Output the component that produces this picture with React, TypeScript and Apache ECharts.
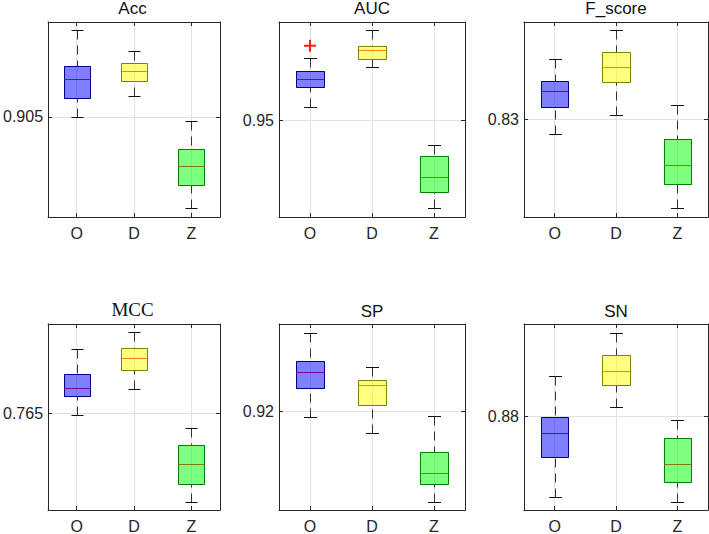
import React, { useEffect, useRef } from "react";
import * as echarts from "echarts";

const categories = ["O", "D", "Z"];
const titles = ["Acc", "AUC", "F_score", "MCC", "SP", "SN"];
const yTicks = [0.905, 0.95, 0.83, 0.765, 0.92, 0.88];
const yMin = [0.895, 0.94036, 0.82023, 0.75523, 0.91, 0.861];
const yMax = [0.91447, 0.95983, 0.8397, 0.7741, 0.92887, 0.89874];

// [lower whisker, Q1, median, Q3, upper whisker]
const accO = [0.90494, 0.90684, 0.90874, 0.9101, 0.91364];
const accD = [0.90704, 0.90857, 0.9096, 0.9104, 0.9116];
const accZ = [0.89594, 0.89817, 0.90007, 0.90174, 0.90454];

const aucO = [0.9513, 0.95336, 0.95416, 0.95493, 0.9562];
const aucD = [0.9553, 0.95613, 0.957, 0.95743, 0.959];
const aucZ = [0.9413, 0.9429, 0.94436, 0.94643, 0.9475];
const aucOutliers = [[0, 0.95746]];

const fO = [0.82853, 0.83123, 0.8328, 0.83377, 0.83597];
const fD = [0.83037, 0.83373, 0.8352, 0.8367, 0.83887];
const fZ = [0.82117, 0.8235, 0.82547, 0.82803, 0.83143];

const mccO = [0.76483, 0.7668, 0.76763, 0.76906, 0.7716];
const mccD = [0.76746, 0.7694, 0.7706, 0.77166, 0.77326];
const mccZ = [0.75606, 0.75786, 0.75986, 0.7618, 0.7635];

const spO = [0.91947, 0.92233, 0.924, 0.92513, 0.928];
const spD = [0.91783, 0.9207, 0.9227, 0.92323, 0.92447];
const spZ = [0.91083, 0.91267, 0.9138, 0.9159, 0.91953];

const snO = [0.86354, 0.8718, 0.87654, 0.87994, 0.8882];
const snD = [0.882, 0.8864, 0.8892, 0.89254, 0.897];
const snZ = [0.86266, 0.86674, 0.87034, 0.8756, 0.87934];

const panels = [
  [accO, accD, accZ],
  [aucO, aucD, aucZ],
  [fO, fD, fZ],
  [mccO, mccD, mccZ],
  [spO, spD, spZ],
  [snO, snD, snZ],
];

const GRIDS = [
  { left: 45, top: 22, width: 175, height: 195 },
  { left: 279, top: 22, width: 186, height: 195 },
  { left: 524, top: 22, width: 184, height: 195 },
  { left: 45, top: 324, width: 175, height: 189 },
  { left: 279, top: 324, width: 186, height: 189 },
  { left: 524, top: 324, width: 184, height: 189 },
];
const TITLE_Y = [8.5, 8.5, 8.5, 309, 311, 311];
const FILLS = ["rgba(0,0,255,0.5)", "rgba(255,255,0,0.5)", "rgba(0,255,0,0.5)"];
const AXIS_COLOR = "#262626";
const GRID_COLOR = "#e2e2e2";
const SANS = '"Liberation Sans", Arial, Helvetica, sans-serif';

const r = (v: number) => Math.round(v) + 0.5;

const renderBox = (params: any, api: any) => {
  const i = api.value(0);
  const c = api.coord([i, api.value(1)]);
  const cx = c[0];
  const yLo = r(c[1]);
  const yQ1 = r(api.coord([i, api.value(2)])[1]);
  const yMed = r(api.coord([i, api.value(3)])[1]);
  const yQ3 = r(api.coord([i, api.value(4)])[1]);
  const yHi = r(api.coord([i, api.value(5)])[1]);
  const band = api.size([1, 0])[0];
  const bw = band * 0.45;
  const cw = band * 0.21;
  const x0 = r(cx - bw / 2);
  const x1 = r(cx + bw / 2);
  const xc = r(cx);
  const fill = FILLS[params.dataIndex % FILLS.length];
  return {
    type: "group",
    children: [
      { type: "line", shape: { x1: xc, y1: yHi, x2: xc, y2: yQ3 }, style: { stroke: "#333", lineWidth: 1, lineDash: [9, 6] } },
      { type: "line", shape: { x1: xc, y1: yLo, x2: xc, y2: yQ1 }, style: { stroke: "#333", lineWidth: 1, lineDash: [9, 6] } },
      { type: "line", shape: { x1: xc - cw / 2, y1: yHi, x2: xc + cw / 2, y2: yHi }, style: { stroke: "#111", lineWidth: 1 } },
      { type: "line", shape: { x1: xc - cw / 2, y1: yLo, x2: xc + cw / 2, y2: yLo }, style: { stroke: "#111", lineWidth: 1 } },
      { type: "rect", shape: { x: x0, y: yQ3, width: x1 - x0, height: yQ1 - yQ3 }, style: { fill: "none", stroke: "#000", lineWidth: 1 } },
      { type: "line", shape: { x1: x0, y1: yMed, x2: x1, y2: yMed }, style: { stroke: "#ff0000", lineWidth: 1 } },
      { type: "rect", shape: { x: x0 - 0.5, y: yQ3 - 0.5, width: x1 - x0 + 1, height: yQ1 - yQ3 + 1 }, style: { fill, stroke: "none" } },
    ],
  };
};

const renderPlus = (params: any, api: any) => {
  const p = api.coord([api.value(0), api.value(1)]);
  const h = 6;
  return {
    type: "group",
    children: [
      { type: "line", shape: { x1: p[0] - h, y1: p[1], x2: p[0] + h, y2: p[1] }, style: { stroke: "#ff1a1a", lineWidth: 2 } },
      { type: "line", shape: { x1: p[0], y1: p[1] - h, x2: p[0], y2: p[1] + h }, style: { stroke: "#ff1a1a", lineWidth: 2 } },
    ],
  };
};

function buildOption() {
  const grid: any[] = [];
  const xAxis: any[] = [];
  const yAxis: any[] = [];
  const series: any[] = [];
  const graphic: any[] = [];

  panels.forEach((boxes, k) => {
    const g = GRIDS[k];
    grid.push({ left: g.left, top: g.top, width: g.width, height: g.height, containLabel: false });
    const lineStyle = { color: AXIS_COLOR, width: 1 };
    xAxis.push({
      gridIndex: k,
      type: "category",
      data: categories,
      position: "bottom",
      axisLine: { show: true, onZero: false, lineStyle },
      axisTick: { show: true, inside: true, length: 4, alignWithLabel: true, lineStyle },
      axisLabel: { show: true, color: AXIS_COLOR, fontSize: 16, fontFamily: SANS, margin: 8 },
      splitLine: { show: true, alignWithLabel: true, lineStyle: { color: GRID_COLOR, width: 1 } },
    });
    xAxis.push({
      gridIndex: k,
      type: "category",
      data: categories,
      position: "top",
      axisLine: { show: true, onZero: false, lineStyle },
      axisTick: { show: true, inside: true, length: 4, alignWithLabel: true, lineStyle },
      axisLabel: { show: false },
      splitLine: { show: false },
    });
    yAxis.push({
      gridIndex: k,
      type: "value",
      min: yMin[k],
      max: yMax[k],
      position: "left",
      axisLine: { show: true, onZero: false, lineStyle },
      axisTick: { show: true, inside: true, length: 4, customValues: [yTicks[k]], lineStyle },
      axisLabel: {
        show: true,
        customValues: [yTicks[k]],
        formatter: (v: number) => String(v),
        color: AXIS_COLOR,
        fontSize: 16,
        fontFamily: SANS,
        margin: 5,
      },
      splitLine: { show: true, lineStyle: { color: GRID_COLOR, width: 1 } },
    });
    yAxis.push({
      gridIndex: k,
      type: "value",
      min: yMin[k],
      max: yMax[k],
      position: "right",
      axisLine: { show: true, onZero: false, lineStyle },
      axisTick: { show: true, inside: true, length: 4, customValues: [yTicks[k]], lineStyle },
      axisLabel: { show: false },
      splitLine: { show: false },
    });
    series.push({
      type: "custom",
      xAxisIndex: k * 2,
      yAxisIndex: k * 2,
      renderItem: renderBox,
      encode: { x: 0, y: [1, 2, 3, 4, 5] },
      data: categories.map((_, i) => [i, ...boxes[i]]),
      clip: false,
      z: 5,
    });
    graphic.push({
      type: "text",
      x: g.left + g.width / 2,
      y: TITLE_Y[k],
      style: {
        text: titles[k],
        fill: "#111",
        font: k === 3 ? '19px "Liberation Serif", "Times New Roman", serif' : `17px ${SANS}`,
        align: "center",
        verticalAlign: "middle",
        textAlign: "center",
        textVerticalAlign: "middle",
      },
    });
  });

  series.push({
    type: "custom",
    xAxisIndex: 2,
    yAxisIndex: 2,
    renderItem: renderPlus,
    encode: { x: 0, y: 1 },
    data: aucOutliers,
    clip: false,
    z: 6,
  });

  return { animation: false, backgroundColor: "#ffffff", grid, xAxis, yAxis, series, graphic };
}

export default function App() {
  const ref = useRef<HTMLDivElement>(null);
  useEffect(() => {
    if (!ref.current) return;
    const chart = echarts.init(ref.current, undefined, { renderer: "svg" });
    chart.setOption(buildOption() as any);
    return () => chart.dispose();
  }, []);
  return <div ref={ref} style={{ position: "absolute", left: 0, top: 0, width: 709, height: 534 }} />;
}
